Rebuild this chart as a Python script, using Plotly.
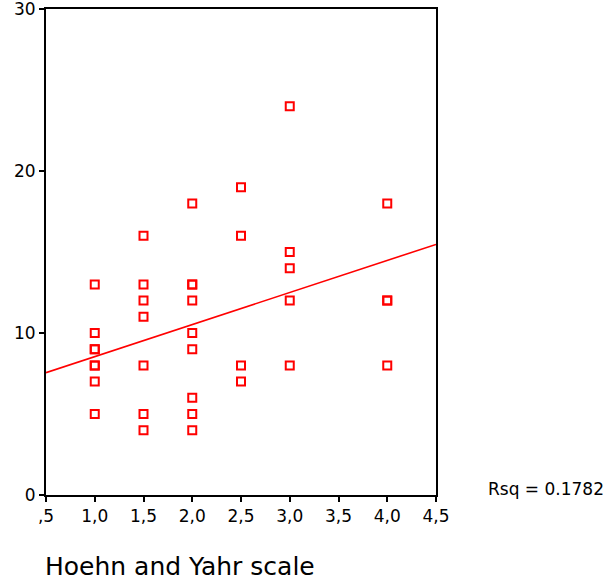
import plotly.graph_objects as go

# Data
x_vals = [1.0, 1.0, 1.0, 1.0, 1.0, 1.0, 1.0, 1.0,
          1.5, 1.5, 1.5, 1.5, 1.5, 1.5, 1.5,
          2.0, 2.0, 2.0, 2.0, 2.0, 2.0, 2.0, 2.0, 2.0,
          2.5, 2.5, 2.5, 2.5,
          3.0, 3.0, 3.0, 3.0, 3.0,
          4.0, 4.0, 4.0, 4.0]
y_vals = [13, 10, 9, 9, 8, 8, 7, 5,
          16, 13, 12, 11, 8, 5, 4,
          18, 13, 13, 12, 10, 9, 6, 5, 4,
          19, 16, 8, 7,
          24, 15, 14, 12, 8,
          18, 12, 12, 8]

fit_intercept = 6.56
fit_slope = 1.98
line_x = [0.5, 4.5]
rsq_text = "Rsq = 0.1782"
x_title = "Hoehn and Yahr scale"
x_tickvals = [0.5, 1.0, 1.5, 2.0, 2.5, 3.0, 3.5, 4.0, 4.5]
x_ticktext = [",5", "1,0", "1,5", "2,0", "2,5", "3,0", "3,5", "4,0", "4,5"]
y_tickvals = [0, 10, 20, 30]

FONT = "DejaVu Sans, Liberation Sans, Arial, sans-serif"

fig = go.Figure()
fig.add_trace(go.Scatter(
    x=x_vals, y=y_vals, mode="markers",
    marker=dict(symbol="square-open", size=8, color="#ff0000",
                line=dict(width=2, color="#ff0000")),
    showlegend=False, hoverinfo="skip"))
fig.add_trace(go.Scatter(
    x=line_x, y=[fit_intercept + fit_slope * v for v in line_x],
    mode="lines", line=dict(color="#ff0000", width=1.6),
    showlegend=False, hoverinfo="skip"))

fig.update_layout(
    width=611, height=584,
    margin=dict(l=46, r=175, t=9, b=89),
    paper_bgcolor="white", plot_bgcolor="white",
    font=dict(family=FONT, size=17, color="black"),
    xaxis=dict(range=[0.5, 4.5], tickvals=x_tickvals, ticktext=x_ticktext,
               showgrid=False, zeroline=False, showline=True, linecolor="black",
               linewidth=2, mirror=True, ticks="outside", ticklen=5,
               tickcolor="black", tickwidth=1.5, tickfont=dict(size=17),
               automargin=False, ticklabeloverflow="allow"),
    yaxis=dict(range=[0, 30], tickvals=y_tickvals,
               showgrid=False, zeroline=False, showline=True, linecolor="black",
               linewidth=2, mirror=True, ticks="outside", ticklen=5,
               tickcolor="black", tickwidth=1.5, tickfont=dict(size=17),
               automargin=False, ticklabeloverflow="allow"),
    annotations=[
        dict(text=rsq_text, xref="paper", yref="paper", x=1.128, y=0.013,
             xanchor="left", yanchor="middle", showarrow=False,
             font=dict(size=17, family=FONT)),
        dict(text=x_title, xref="paper", yref="paper",
             x=-0.008, y=-0.148, xanchor="left", yanchor="middle",
             showarrow=False, font=dict(size=25, family=FONT)),
    ],
)

fig.write_html("out.html")
